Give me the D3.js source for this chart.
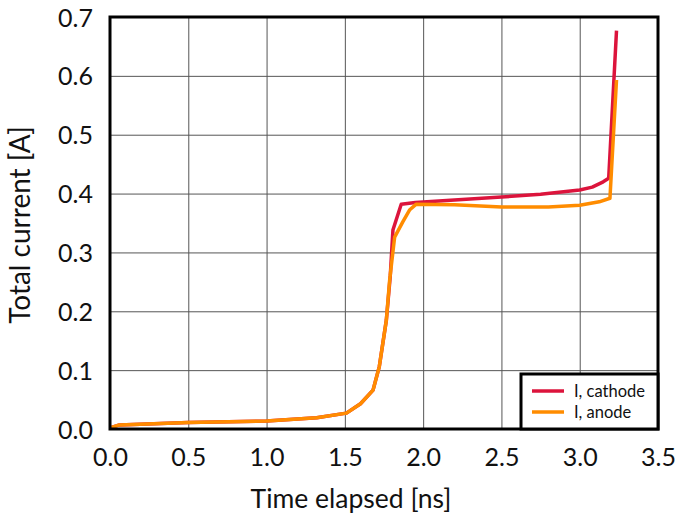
<!DOCTYPE html>
<html>
<head>
<meta charset="utf-8">
<script src="https://cdn.jsdelivr.net/npm/d3@7"></script>
<style>
  body { margin: 0; background: #fff; }
  text { font-family: Lato, "Open Sans", sans-serif; fill: #111; }
</style>
</head>
<body>
<div id="chart"></div>
<script>
var width = 680,
    height = 513;

// time [ns] and current [A]
var cathodeT = [0, 0.06, 0.5, 1.0, 1.32, 1.51, 1.6, 1.68, 1.72, 1.765, 1.79, 1.807, 1.86, 1.95, 2.2, 2.5, 2.75, 3.0, 3.08, 3.15, 3.185, 3.235];
var cathodeI = [0.002, 0.007, 0.011, 0.0135, 0.019, 0.027, 0.043, 0.066, 0.106, 0.185, 0.26, 0.338, 0.382, 0.385, 0.389, 0.394, 0.399, 0.406, 0.411, 0.42, 0.426, 0.677];

var anodeT = [0, 0.06, 0.5, 1.0, 1.32, 1.51, 1.6, 1.68, 1.72, 1.765, 1.786, 1.818, 1.87, 1.913, 1.956, 2.2, 2.5, 2.8, 3.0, 3.125, 3.193, 3.235];
var anodeI = [0.002, 0.007, 0.011, 0.0135, 0.019, 0.027, 0.043, 0.066, 0.106, 0.185, 0.253, 0.326, 0.352, 0.372, 0.382, 0.381, 0.377, 0.377, 0.380, 0.386, 0.392, 0.593];

var xTicks = [0, 0.5, 1.0, 1.5, 2.0, 2.5, 3.0, 3.5];
var yTicks = [0, 0.1, 0.2, 0.3, 0.4, 0.5, 0.6, 0.7];

var series = [
    {name: "I, cathode", color: "#dc143c", t: cathodeT, v: cathodeI},
    {name: "I, anode", color: "#ff8c00", t: anodeT, v: anodeI}
];

var margin = {left: 110, right: 22, top: 17, bottom: 84};
var x = d3.scaleLinear().domain([0, 3.5]).range([margin.left, width - margin.right]);
var y = d3.scaleLinear().domain([0, 0.7]).range([height - margin.bottom, margin.top]);

var svg = d3.select("#chart").append("svg")
    .attr("width", width)
    .attr("height", height);

// grid
svg.append("g")
    .call(d3.axisBottom(x).tickValues(xTicks).tickSize(y.range()[1] - y.range()[0]).tickFormat(""))
    .attr("transform", "translate(0," + y.range()[0] + ")")
    .call(function (g) { g.select(".domain").remove(); })
    .selectAll("line").attr("stroke", "#555").attr("stroke-width", 1);
svg.append("g")
    .call(d3.axisLeft(y).tickValues(yTicks).tickSize(x.range()[0] - x.range()[1]).tickFormat(""))
    .attr("transform", "translate(" + x.range()[0] + ",0)")
    .call(function (g) { g.select(".domain").remove(); })
    .selectAll("line").attr("stroke", "#555").attr("stroke-width", 1);

// tick labels
var fmt = d3.format(".1f");
svg.append("g")
    .attr("transform", "translate(0," + (y(0) + 37) + ")")
    .call(d3.axisBottom(x).tickValues(xTicks).tickSize(0).tickPadding(0).tickFormat(fmt))
    .call(function (g) { g.select(".domain").remove(); })
    .selectAll("text")
    .attr("dy", 0)
    .style("font-size", "25px")
    .style("font-family", "Lato, sans-serif")
    .attr("fill", "#111");
svg.append("g")
    .attr("transform", "translate(" + (x(0) - 17) + ",0)")
    .call(d3.axisLeft(y).tickValues(yTicks).tickSize(0).tickPadding(0).tickFormat(fmt))
    .call(function (g) { g.select(".domain").remove(); })
    .selectAll("text")
    .attr("dy", "0.36em")
    .style("font-size", "25px")
    .style("font-family", "Lato, sans-serif")
    .attr("fill", "#111");

// curves
var line = d3.line()
    .x(function (d) { return x(d[0]); })
    .y(function (d) { return y(d[1]); });

series.forEach(function (s) {
    svg.append("path")
        .datum(d3.zip(s.t, s.v))
        .attr("fill", "none")
        .attr("stroke", s.color)
        .attr("stroke-width", 3.5)
        .attr("stroke-linejoin", "round")
        .attr("d", line);
});

// frame
svg.append("rect")
    .attr("x", x(0))
    .attr("y", y(0.7))
    .attr("width", x(3.5) - x(0))
    .attr("height", y(0) - y(0.7))
    .attr("fill", "none")
    .attr("stroke", "#000")
    .attr("stroke-width", 3);

// legend
var lg = svg.append("g").attr("transform", "translate(" + (x(3.5) - 137) + "," + (y(0) - 55) + ")");
lg.append("rect")
    .attr("width", 137)
    .attr("height", 55)
    .attr("fill", "#fff")
    .attr("stroke", "#000")
    .attr("stroke-width", 3);
series.forEach(function (s, i) {
    lg.append("line")
        .attr("x1", 11).attr("x2", 43)
        .attr("y1", 17 + i * 21).attr("y2", 17 + i * 21)
        .attr("stroke", s.color)
        .attr("stroke-width", 3.5);
    lg.append("text")
        .attr("x", 53)
        .attr("y", 23 + i * 21)
        .style("font-size", "16.5px")
        .text(s.name);
});

// axis titles
svg.append("text")
    .attr("x", 351)
    .attr("y", 508)
    .attr("text-anchor", "middle")
    .style("font-size", "26.5px")
    .text("Time elapsed [ns]");
svg.append("text")
    .attr("transform", "translate(30," + (y(0.35) + 2) + ") rotate(-90)")
    .attr("text-anchor", "middle")
    .style("font-size", "28px")
    .text("Total current [A]");
</script>
</body>
</html>
